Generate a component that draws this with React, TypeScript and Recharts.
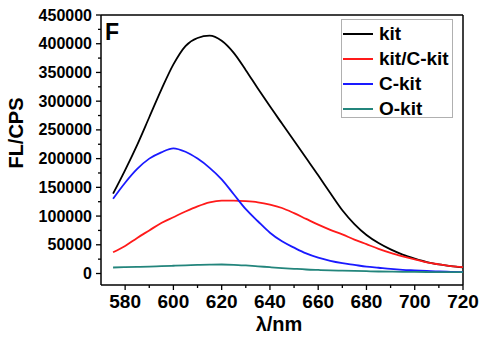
import React from 'react';
import { LineChart, Line, XAxis, YAxis, ReferenceLine, Legend, Customized } from 'recharts';

const wavelengths = [575,580,585,590,595,600,605,610,615,620,625,630,635,640,645,650,655,660,665,670,675,680,685,690,695,700,705,710,715,720];
const kit = [139000,180000,224000,272000,320000,364000,396000,410000,414000,405000,384000,354000,322000,291000,261000,231000,201000,171000,140000,110000,86000,67000,53000,42000,33000,26000,20000,16000,13000,10500];
const kitCkit = [37000,48000,62000,75000,88000,98000,108000,117000,124000,127000,127000,126000,124000,120000,114000,105000,95000,85000,76000,68000,59000,51000,43000,36000,30000,24500,19500,16000,13000,11000];
const cKit = [130000,158000,182000,200000,211000,218000,212000,200000,184000,164000,138000,112000,91000,71000,56000,45000,35000,27500,22000,18000,15000,12000,10000,8000,6500,5500,4500,3500,3000,2500];
const oKit = [10500,11000,11500,12000,12800,13500,14200,15000,15600,15700,15200,14000,12500,11000,9500,8200,7000,6200,5500,5000,4500,4000,3500,3200,3000,2800,2600,2500,2400,2300];

const seriesNames = ['kit', 'kit/C-kit', 'C-kit', 'O-kit'];
const seriesKeys = ['kit', 'kitCkit', 'cKit', 'oKit'];
const seriesColors = ['#000000', '#ff1a1a', '#1a1aff', '#23857c'];

const xTicks = [580,590,600,610,620,630,640,650,660,670,680,690,700,710,720];
const xLabelTicks = [580,600,620,640,660,680,700,720];
const yTicks = [0,25000,50000,75000,100000,125000,150000,175000,200000,225000,250000,275000,300000,325000,350000,375000,400000,425000,450000];

const data = wavelengths.map((w, i) => ({
  w,
  kit: kit[i],
  kitCkit: kitCkit[i],
  cKit: cKit[i],
  oKit: oKit[i],
}));

const FONT = '"Liberation Sans", Arial, Helvetica, sans-serif';

const XTick = (props: any) => {
  const { x, y, payload } = props;
  const major = xLabelTicks.includes(payload.value);
  return (
    <g>
      <line x1={x} x2={x} y1={y} y2={y + (major ? 5 : 3)} stroke="#000" strokeWidth={1.3} />
      {major && (
        <text x={x} y={y + 23} textAnchor="middle" fontFamily={FONT} fontWeight="bold" fontSize={19} fill="#000">
          {payload.value}
        </text>
      )}
    </g>
  );
};

const YTick = (props: any) => {
  const { x, y, payload } = props;
  const major = payload.value % 50000 === 0;
  return (
    <g>
      <line x1={x} x2={x - (major ? 5 : 3)} y1={y} y2={y} stroke="#000" strokeWidth={1.3} />
      {major && (
        <text x={x - 9} y={y + 5.5} textAnchor="end" fontFamily={FONT} fontWeight="bold" fontSize={16} fill="#000">
          {payload.value}
        </text>
      )}
    </g>
  );
};

const LegendBox = () => (
  <div
    style={{
      width: 112,
      height: 99,
      border: '1px solid #b0b0b0',
      background: '#fff',
      boxSizing: 'border-box',
      fontFamily: FONT,
      fontWeight: 'bold',
      fontSize: 19,
      paddingTop: 1,
    }}
  >
    {seriesNames.map((n, i) => (
      <div key={n} style={{ display: 'flex', alignItems: 'center', height: 25 }}>
        <div style={{ width: 30, height: 2, background: seriesColors[i], marginLeft: 1, marginRight: 6 }} />
        <span style={{ lineHeight: '25px' }}>{n}</span>
      </div>
    ))}
  </div>
);

const PanelLetter = () => (
  <text x={105} y={40} fontFamily={FONT} fontWeight="bold" fontSize={23} fill="#000">F</text>
);

export default function App() {
  return (
    <div style={{ position: 'absolute', left: 0, top: 0, width: 483, height: 345, background: '#fff' }}>
      <LineChart width={483} height={345} data={data} margin={{ top: 15, right: 20, bottom: 0, left: 0 }}>
        <XAxis
          dataKey="w"
          type="number"
          domain={[570, 720]}
          ticks={xTicks}
          interval={0}
          tick={<XTick />}
          tickSize={0}
          tickMargin={0}
          tickLine={false}
          axisLine={{ stroke: '#000', strokeWidth: 1.5 }}
          height={60}
          allowDataOverflow
          label={{ value: 'λ/nm', position: 'insideBottom', offset: 14, dx: -3, fontFamily: FONT, fontWeight: 'bold', fontSize: 20, fill: '#000' }}
        />
        <YAxis
          type="number"
          domain={[-20000, 450000]}
          ticks={yTicks}
          interval={0}
          tick={<YTick />}
          tickSize={0}
          tickMargin={0}
          tickLine={false}
          axisLine={{ stroke: '#000', strokeWidth: 1.5 }}
          width={101}
          allowDataOverflow
          label={{ value: 'FL/CPS', angle: -90, position: 'insideLeft', offset: 16, dy: -17, fontFamily: FONT, fontWeight: 'bold', fontSize: 20, fill: '#000', style: { textAnchor: 'middle' } }}
        />
        <ReferenceLine y={450000} stroke="#000" strokeWidth={1.5} />
        <ReferenceLine x={720} stroke="#000" strokeWidth={1.5} />
        {seriesKeys.map((k, i) => (
          <Line
            key={k}
            dataKey={k}
            name={seriesNames[i]}
            stroke={seriesColors[i]}
            strokeWidth={1.8}
            dot={false}
            type="monotone"
            isAnimationActive={false}
          />
        ))}
        <Legend
          layout="vertical"
          align="center"
          verticalAlign="middle"
          content={<LegendBox />}
          wrapperStyle={{ position: 'absolute', left: 341, top: 19, width: 112, height: 99 }}
        />
        <Customized component={<PanelLetter />} />
      </LineChart>
    </div>
  );
}
